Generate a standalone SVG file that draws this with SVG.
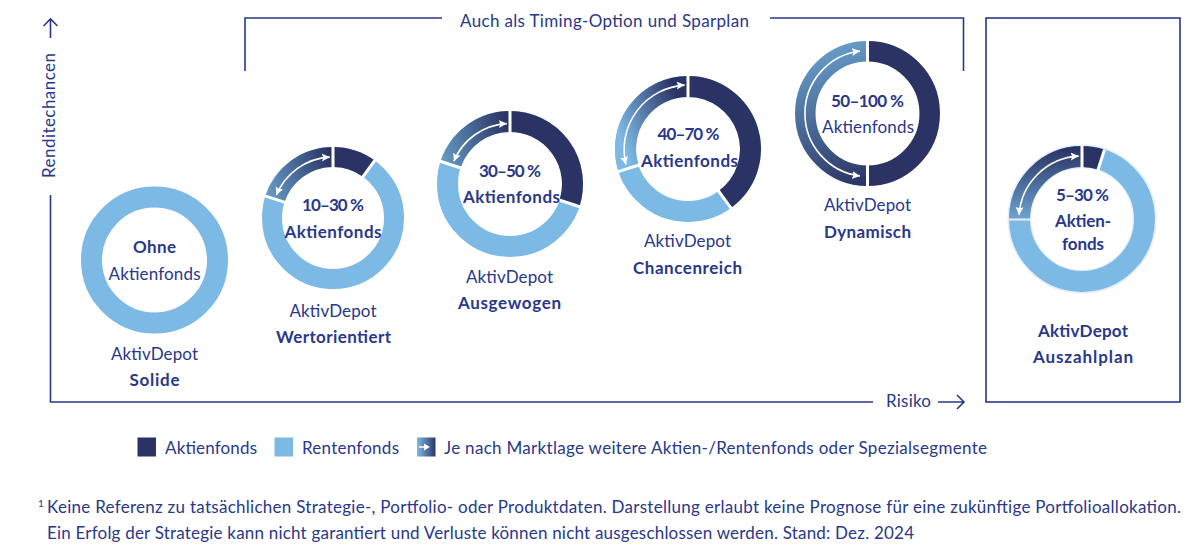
<svg xmlns="http://www.w3.org/2000/svg" width="1200" height="548" viewBox="0 0 1200 548">
<style>
text{font-family:"Lato","Liberation Sans",sans-serif;font-size:17px;fill:#29388a;text-anchor:middle}
.b{font-weight:700}
.s{text-anchor:start}
.ring{fill:none}
.l{stroke:#7db9e5}
.d{stroke:#2a3364}
.sep{stroke:#fff;stroke-width:3;fill:none}
.arw{stroke:#fff;stroke-width:1.6;fill:none;marker-start:url(#wh);marker-end:url(#wh)}
.ax{stroke:#29388a;stroke-width:1.6;fill:none}
</style>
<defs>
<marker id="wh" markerUnits="userSpaceOnUse" markerWidth="10" markerHeight="10" refX="8" refY="4" orient="auto-start-reverse"><path d="M0 0L8 4L0 8L1.500 4Z" fill="#fff"/></marker>
<linearGradient id="g2" gradientUnits="userSpaceOnUse" x1="268" y1="190" x2="335" y2="170"><stop offset="0" stop-color="#6499c5"/><stop offset="1" stop-color="#2a3364"/></linearGradient>
<linearGradient id="g3" gradientUnits="userSpaceOnUse" x1="442" y1="158" x2="512" y2="135"><stop offset="0" stop-color="#6499c5"/><stop offset="1" stop-color="#2a3364"/></linearGradient>
<linearGradient id="g4" gradientUnits="userSpaceOnUse" x1="626" y1="152" x2="690" y2="128"><stop offset="0" stop-color="#7db9e5"/><stop offset="1" stop-color="#2a3364"/></linearGradient>
<linearGradient id="g5" gradientUnits="userSpaceOnUse" x1="810" y1="45" x2="860" y2="186"><stop offset="0" stop-color="#6ba3cd"/><stop offset="1" stop-color="#2a3364"/></linearGradient>
<linearGradient id="g6" gradientUnits="userSpaceOnUse" x1="1060" y1="222" x2="1060" y2="148"><stop offset="0" stop-color="#6fa8d6"/><stop offset="1" stop-color="#2a3364"/></linearGradient>
<linearGradient id="g7" gradientUnits="userSpaceOnUse" x1="417" y1="0" x2="436" y2="0"><stop offset="0" stop-color="#7db9e5"/><stop offset="1" stop-color="#2a3364"/></linearGradient>
</defs>
<rect width="1200" height="548" fill="#fff"/>

<g id="connectors">
<path class="ax" d="M50.500 38V19M43.500 26L50.500 19L57.500 26"/>
<path class="ax" d="M50.500 195V402H873"/>
<path class="ax" d="M938 402H964M957 395L964 402L957 409"/>
<path class="ax" d="M245 71V18H442M770 18H963.500V71"/>
</g>

<g id="frame-auszahlplan"><rect class="ax" x="986" y="18" width="194" height="384"/></g>

<g id="axis-labels">
<text x="604.500" y="27" textLength="289">Auch als Timing-Option und Sparplan</text>
<text transform="translate(55 115.500) rotate(-90)" textLength="125">Renditechancen</text>
<text x="908.500" y="407" textLength="45">Risiko</text>
</g>

<g id="node-solide">
<circle class="ring l" cx="154.500" cy="260" r="63" stroke-width="21"/>
<text class="b" x="154.500" y="253" textLength="43">Ohne</text>
<text x="154.500" y="280" textLength="92">Aktienfonds</text>
<text x="154.500" y="360" textLength="87">AktivDepot</text>
<text class="b" x="154.500" y="386" textLength="50">Solide</text>
</g>

<g id="node-wertorientiert">
<circle class="ring l" cx="333" cy="218" r="61" stroke-width="20"/>
<path class="ring d" stroke-width="20" d="M333 157A61 61 0 0 1 368.850 168.650"/>
<path class="ring" stroke="url(#g2)" stroke-width="20" d="M274.990 199.150A61 61 0 0 1 333 157"/>
<path class="sep" d="M333 145V169M361.800 178.360L375.900 158.940M286.400 202.860L263.600 195.440"/>
<path class="arw" d="M276.400 195.100A61 61 0 0 1 329.800 157.100"/>
<text class="b" x="333" y="211" textLength="62">10–30 %</text>
<text class="b" x="333" y="238" textLength="97">Aktienfonds</text>
<text x="333" y="317" textLength="87">AktivDepot</text>
<text class="b" x="333.500" y="343" textLength="115">Wertorientiert</text>
</g>

<g id="node-ausgewogen">
<circle class="ring l" cx="510" cy="184" r="62.500" stroke-width="21"/>
<path class="ring d" stroke-width="21" d="M510 121.500A62.500 62.500 0 0 1 569.440 203.310"/>
<path class="ring" stroke="url(#g3)" stroke-width="21" d="M450.560 164.690A62.500 62.500 0 0 1 510 121.500"/>
<path class="sep" d="M510 109V134M557.550 199.450L581.300 207.200M462.450 168.550L438.700 160.800"/>
<path class="arw" d="M453.900 161.300A60.500 60.500 0 0 1 506.800 123.600"/>
<text class="b" x="510" y="177" textLength="62">30–50 %</text>
<text class="b" x="511.500" y="203" textLength="97">Aktienfonds</text>
<text x="509.500" y="283" textLength="87">AktivDepot</text>
<text class="b" x="509.500" y="309" textLength="103">Ausgewogen</text>
</g>

<g id="node-chancenreich">
<circle class="ring l" cx="688" cy="149" r="62.500" stroke-width="21"/>
<path class="ring d" stroke-width="21" d="M688 86.500A62.500 62.500 0 0 1 724.740 199.560"/>
<path class="ring" stroke="url(#g4)" stroke-width="21" d="M628.560 168.310A62.500 62.500 0 0 1 688 86.500"/>
<path class="sep" d="M688 74V99M717.390 189.450L732.080 209.670M640.450 164.450L616.670 172.180"/>
<path class="arw" d="M625.900 164.500A64.500 64.500 0 0 1 684.650 85.100"/>
<text class="b" x="688.500" y="140" textLength="62">40–70 %</text>
<text class="b" x="689.500" y="167" textLength="97">Aktienfonds</text>
<text x="687.500" y="247" textLength="87">AktivDepot</text>
<text class="b" x="687.500" y="274" textLength="109">Chancenreich</text>
</g>

<g id="node-dynamisch">
<path class="ring d" stroke-width="20.500" d="M867.500 51.250A62.250 62.250 0 0 1 867.500 175.750"/>
<path class="ring" stroke="url(#g5)" stroke-width="20.500" d="M867.500 175.750A62.250 62.250 0 0 1 867.500 51.250"/>
<path class="sep" d="M867.500 39V188"/>
<path class="arw" d="M860 51A63 63 0 0 0 860 176"/>
<text class="b" x="867.500" y="107" textLength="73">50–100 %</text>
<text x="868" y="133" textLength="92">Aktienfonds</text>
<text x="867.500" y="211" textLength="87">AktivDepot</text>
<text class="b" x="867.500" y="238" textLength="87">Dynamisch</text>
</g>

<g id="node-auszahlplan">
<circle cx="1082" cy="219" r="73.800" fill="none" stroke="#e6edf7" stroke-width="1.500"/>
<circle cx="1082" cy="219" r="51.500" fill="none" stroke="#e6edf7" stroke-width="1.500"/>
<circle class="ring l" cx="1082" cy="219" r="62.500" stroke-width="21"/>
<path class="ring d" stroke-width="21" d="M1082 156.500A62.500 62.500 0 0 1 1101.310 159.560"/>
<path class="ring" stroke="url(#g6)" stroke-width="21" d="M1019.500 219A62.500 62.500 0 0 1 1082 156.500"/>
<path class="sep" d="M1082 145V170M1097.450 171.450L1104.560 149.570"/>
<path d="M1008 219.500H1031" stroke="#e6edf7" stroke-width="2" fill="none"/>
<path class="arw" d="M1019.100 215A63 63 0 0 1 1078.700 156.100"/>
<text class="b" x="1082.500" y="201" textLength="53">5–30 %</text>
<text class="b" x="1083" y="227" textLength="56">Aktien-</text>
<text class="b" x="1083" y="249.500" textLength="42">fonds</text>
<text class="b" x="1083" y="336.500" textLength="90">AktivDepot</text>
<text class="b" x="1083" y="363" textLength="100">Auszahlplan</text>
</g>

<g id="legend">
<rect x="137.500" y="437.500" width="18.500" height="19" fill="#2a3364"/>
<text class="s" x="165" y="454" textLength="92">Aktienfonds</text>
<rect x="274.500" y="437.500" width="18.500" height="19" fill="#7db9e5"/>
<text class="s" x="302" y="454" textLength="97">Rentenfonds</text>
<rect x="417" y="437.500" width="18.500" height="19" fill="url(#g7)"/>
<path d="M419 447H425" stroke="#fff" stroke-width="1.500"/><path d="M424 443.500L430 447L424 450.500Z" fill="#fff"/>
<text class="s" x="444" y="454" textLength="543">Je nach Marktlage weitere Aktien-/Rentenfonds oder Spezialsegmente</text>
</g>

<g id="footnote">
<text class="s" x="38" y="507" style="font-size:10px">1</text>
<text class="s" x="47" y="513" textLength="1134">Keine Referenz zu tatsächlichen Strategie-, Portfolio- oder Produktdaten. Darstellung erlaubt keine Prognose für eine zukünftige Portfolioallokation.</text>
<text class="s" x="47" y="538.500" textLength="867">Ein Erfolg der Strategie kann nicht garantiert und Verluste können nicht ausgeschlossen werden. Stand: Dez. 2024</text>
</g>
</svg>
